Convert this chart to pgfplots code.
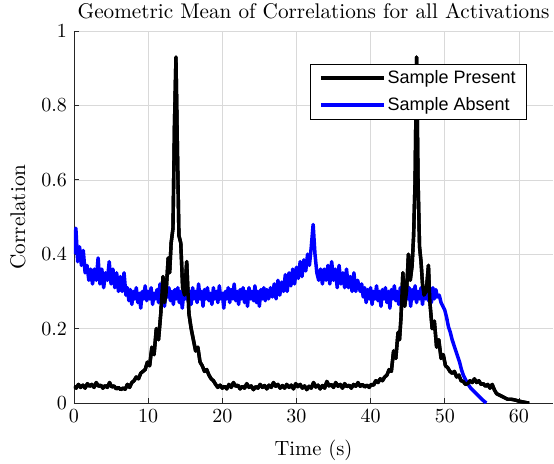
\documentclass[border=0pt]{standalone}
\usepackage{fontspec}
\usepackage{pgfplots}
\usepackage{pgfplotstable}
\pgfplotsset{compat=1.18}
\newfontfamily\legfont{Liberation Sans}

\pgfplotstableread{
t v
0.0 0.045
0.3 0.040
0.6 0.050
0.9 0.042
1.2 0.048
1.5 0.040
1.8 0.052
2.1 0.045
2.4 0.050
2.7 0.042
3.0 0.055
3.3 0.045
3.6 0.048
3.9 0.040
4.2 0.047
4.5 0.042
4.8 0.055
5.1 0.043
5.4 0.046
5.7 0.038
6.0 0.042
6.3 0.036
6.6 0.040
6.9 0.037
7.2 0.050
7.5 0.042
7.8 0.055
8.1 0.060
8.4 0.070
8.7 0.065
9.0 0.080
9.3 0.085
9.6 0.090
9.9 0.110
10.2 0.100
10.5 0.150
10.8 0.130
11.1 0.200
11.4 0.170
11.7 0.240
12.0 0.340
12.2 0.270
12.4 0.290
12.7 0.390
12.9 0.350
13.1 0.430
13.35 0.470
13.55 0.750
13.75 0.930
13.95 0.680
14.15 0.450
14.4 0.430
14.65 0.310
14.9 0.290
15.2 0.380
15.5 0.240
15.8 0.200
16.1 0.170
16.4 0.140
16.7 0.150
17.0 0.110
17.3 0.100
17.6 0.085
17.9 0.090
18.2 0.075
18.5 0.065
18.8 0.060
19.1 0.050
19.4 0.042
19.7 0.048
20.0 0.040
20.3 0.045
20.6 0.038
20.9 0.050
21.2 0.042
21.5 0.055
21.8 0.045
22.1 0.048
22.4 0.038
22.7 0.045
23.0 0.040
23.3 0.052
23.6 0.042
23.9 0.046
24.2 0.036
24.5 0.044
24.8 0.040
25.1 0.050
25.4 0.042
25.7 0.047
26.0 0.038
26.3 0.048
26.6 0.042
26.9 0.055
27.2 0.045
27.5 0.050
27.8 0.040
28.1 0.047
28.4 0.040
28.7 0.050
29.0 0.042
29.3 0.048
29.6 0.038
29.9 0.052
30.2 0.044
30.5 0.050
30.8 0.040
31.1 0.046
31.4 0.036
31.7 0.045
32.0 0.040
32.3 0.055
32.6 0.043
32.9 0.048
33.2 0.038
33.5 0.047
33.8 0.040
34.1 0.058
34.4 0.046
34.7 0.050
35.0 0.042
35.3 0.055
35.6 0.045
35.9 0.050
36.2 0.040
36.5 0.052
36.8 0.044
37.1 0.048
37.4 0.040
37.7 0.050
38.0 0.045
38.3 0.055
38.6 0.045
38.9 0.050
39.2 0.043
39.5 0.048
39.8 0.042
40.1 0.050
40.4 0.048
40.7 0.060
41.0 0.055
41.3 0.065
41.6 0.060
41.9 0.070
42.2 0.075
42.5 0.090
42.8 0.085
43.1 0.140
43.4 0.120
43.7 0.190
43.9 0.170
44.1 0.230
44.35 0.350
44.6 0.260
44.85 0.300
45.1 0.400
45.35 0.330
45.6 0.370
45.8 0.450
46.0 0.600
46.2 0.930
46.4 0.600
46.6 0.420
46.8 0.380
47.0 0.320
47.2 0.290
47.5 0.300
47.8 0.370
48.0 0.270
48.3 0.200
48.6 0.220
48.9 0.150
49.2 0.170
49.5 0.120
49.8 0.130
50.1 0.100
50.4 0.095
50.7 0.085
51.0 0.080
51.3 0.085
51.6 0.070
51.9 0.075
52.2 0.060
52.5 0.058
52.8 0.050
53.1 0.052
53.4 0.060
53.7 0.055
54.0 0.065
54.3 0.055
54.6 0.060
54.9 0.050
55.2 0.052
55.5 0.045
55.8 0.050
56.1 0.040
56.4 0.050
56.7 0.035
57.0 0.025
57.5 0.020
58.0 0.015
58.5 0.010
59.0 0.010
59.5 0.008
60.0 0.005
60.5 0.003
61.0 0.001
61.4 0.000
}\presentdata

\pgfplotstableread{
t v
0.00 0.40
0.25 0.47
0.50 0.38
0.75 0.42
1.00 0.37
1.25 0.41
1.50 0.35
1.75 0.37
2.00 0.33
2.25 0.36
2.50 0.32
2.75 0.36
3.00 0.33
3.25 0.39
3.50 0.32
3.75 0.36
4.00 0.31
4.25 0.35
4.50 0.33
4.75 0.38
5.00 0.32
5.25 0.36
5.50 0.31
5.75 0.35
6.00 0.30
6.25 0.34
6.50 0.30
6.75 0.35
7.0 0.29
7.2 0.31
7.4 0.275
7.6 0.305
7.8 0.265
8.0 0.30
8.2 0.28
8.4 0.31
8.6 0.27
8.8 0.295
9.0 0.255
9.2 0.30
9.4 0.28
9.6 0.315
9.8 0.275
10.0 0.30
10.2 0.28
10.4 0.31
10.6 0.265
10.8 0.295
11.0 0.28
11.2 0.305
11.4 0.27
11.6 0.32
11.8 0.28
12.0 0.30
12.2 0.26
12.4 0.30
12.6 0.285
12.8 0.31
13.0 0.275
13.2 0.30
13.4 0.265
13.6 0.305
13.8 0.28
14.0 0.31
14.2 0.27
14.4 0.30
14.6 0.255
14.8 0.295
15.0 0.28
15.2 0.315
15.4 0.275
15.6 0.30
15.8 0.265
16.0 0.31
16.2 0.28
16.4 0.30
16.6 0.27
16.8 0.32
17.0 0.28
17.2 0.30
17.4 0.26
17.6 0.305
17.8 0.28
18.0 0.31
18.2 0.275
18.4 0.295
18.6 0.265
18.8 0.31
19.0 0.28
19.2 0.30
19.4 0.27
19.6 0.315
19.8 0.28
20.0 0.295
20.2 0.255
20.4 0.30
20.6 0.28
20.8 0.31
21.0 0.27
21.2 0.305
21.4 0.28
21.6 0.32
21.8 0.275
22.0 0.30
22.2 0.265
22.4 0.305
22.6 0.28
22.8 0.31
23.0 0.27
23.2 0.30
23.4 0.26
23.6 0.31
23.8 0.28
24.0 0.30
24.2 0.275
24.4 0.315
24.6 0.27
24.8 0.30
25.0 0.26
25.2 0.305
25.4 0.28
25.6 0.31
25.8 0.275
26.0 0.305
26.25 0.28
26.50 0.31
26.75 0.285
27.00 0.32
27.25 0.28
27.50 0.33
27.75 0.29
28.00 0.325
28.25 0.30
28.50 0.345
28.75 0.30
29.00 0.35
29.25 0.315
29.50 0.36
29.75 0.32
30.00 0.365
30.25 0.335
30.50 0.38
30.75 0.34
31.00 0.385
31.25 0.355
31.50 0.40
31.75 0.37
32.00 0.42
32.25 0.48
32.50 0.40
32.75 0.35
33.00 0.33
33.25 0.36
33.50 0.32
33.75 0.36
34.00 0.33
34.25 0.37
34.50 0.32
34.75 0.38
35.00 0.33
35.25 0.36
35.50 0.31
35.75 0.37
36.00 0.32
36.25 0.35
36.50 0.31
36.75 0.36
37.00 0.31
37.25 0.34
37.50 0.30
37.75 0.35
38.00 0.30
38.25 0.33
38.6 0.30
38.8 0.32
39.0 0.285
39.2 0.31
39.4 0.27
39.6 0.305
39.8 0.28
40.0 0.31
40.2 0.265
40.4 0.30
40.6 0.28
40.8 0.315
41.0 0.275
41.2 0.30
41.4 0.26
41.6 0.305
41.8 0.28
42.0 0.31
42.2 0.27
42.4 0.30
42.6 0.255
42.8 0.305
43.0 0.28
43.2 0.315
43.4 0.275
43.6 0.30
43.8 0.265
44.0 0.31
44.2 0.28
44.4 0.32
44.6 0.27
44.8 0.30
45.0 0.28
45.2 0.31
45.4 0.26
45.6 0.305
45.8 0.28
46.0 0.315
46.2 0.27
46.4 0.30
46.6 0.28
46.8 0.31
47.0 0.265
47.2 0.305
47.4 0.28
47.6 0.32
47.8 0.275
48.0 0.30
48.2 0.27
48.4 0.31
48.6 0.28
48.8 0.305
49.00 0.285
49.25 0.29
49.50 0.27
49.75 0.26
50.00 0.25
50.25 0.23
50.50 0.205
50.75 0.19
51.00 0.17
51.25 0.155
51.50 0.14
51.75 0.125
52.00 0.11
52.25 0.09
52.50 0.075
52.75 0.065
53.00 0.055
53.50 0.04
54.00 0.03
54.50 0.02
55.00 0.01
55.60 0.00
}\absentdata

\begin{document}
\begin{tikzpicture}
\begin{axis}[
  name=ax,
  scale only axis, width=239.5pt, height=186pt,
  xmin=0, xmax=64.6, ymin=0, ymax=1,
  axis x line*=bottom, axis y line*=left,
  axis line style={black!85, line width=0.4pt},
  xtick={0,10,20,30,40,50,60},
  ytick={0,0.2,0.4,0.6,0.8,1},
  yticklabels={0,0.2,0.4,0.6,0.8,1},
  tick align=inside, major tick length=2.5pt,
  tick style={black!85, line width=0.4pt},
  grid=major, grid style={black!15, line width=0.3pt},
  ticklabel style={font=\fontsize{10}{12}\selectfont},
  every axis title shift=0pt,
  title={Geometric Mean of Correlations for all Activations},
  title style={font=\fontsize{10.6}{12}\selectfont, at={(axis description cs:0.5,1.0323)}, anchor=base},
  xlabel={Time (s)},
  ylabel={Correlation},
  xlabel style={font=\fontsize{10.3}{12}\selectfont, at={(axis description cs:0.5,-0.1398)}, anchor=base},
  ylabel style={font=\fontsize{10.6}{12}\selectfont, at={(axis description cs:-0.1023,0.5)}, anchor=base},
  legend cell align=left,
  legend style={at={(0.9457,0.912)}, anchor=north east,
    font=\legfont\fontsize{9}{10.5}\selectfont,
    draw=black, line width=0.4pt, inner xsep=4.5pt, inner ysep=2pt,
    row sep=3.4pt, nodes={inner xsep=1pt, inner ysep=1pt}},
  legend image code/.code={\draw[#1] (0pt,0pt) -- (31.5pt,0pt);},
]
\addplot[black, line width=1.7pt, line join=round] table[x=t, y=v] {\presentdata};
\addlegendentry{Sample Present}
\addplot[blue, line width=1.75pt, line join=round] table[x=t, y=v] {\absentdata};
\addlegendentry{Sample Absent}
\addplot[black, line width=1.7pt, line join=round, forget plot] table[x=t, y=v] {\presentdata};
\end{axis}
\pgfresetboundingbox
\path ([xshift=-37pt,yshift=-30pt]ax.south west) rectangle ([xshift=0.5pt,yshift=15.5pt]ax.north east);
\end{tikzpicture}
\end{document}
